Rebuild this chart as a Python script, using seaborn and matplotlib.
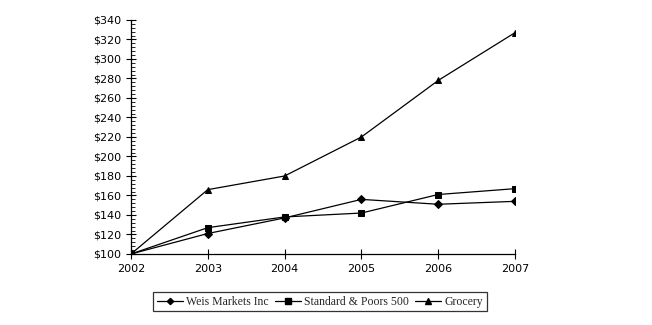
import matplotlib
matplotlib.use("Agg")
import matplotlib.pyplot as plt
from matplotlib.ticker import MultipleLocator, FuncFormatter
from matplotlib.lines import Line2D
import seaborn as sns
import pandas as pd

years = [2002, 2003, 2004, 2005, 2006, 2007]
weis = [100, 121, 137, 156, 151, 154]
sp500 = [100, 127, 138, 142, 161, 167]
grocery = [100, 166, 180, 220, 278, 327]
series_names = ["Weis Markets Inc", "Standard & Poors 500", "Grocery"]

df = pd.concat([
    pd.DataFrame({"year": years, "value": vals, "series": name})
    for name, vals in zip(series_names, [weis, sp500, grocery])
])

sns.set_theme(style="white")
plt.rcParams["font.family"] = ["DejaVu Sans"]

fig = plt.figure(figsize=(6.52, 3.25), dpi=100)
ax = fig.add_axes([0.2009, 0.2185, 0.589, 0.72])

sns.lineplot(
    data=df, x="year", y="value", hue="series", style="series",
    hue_order=series_names, style_order=series_names,
    palette=["black"] * 3, markers=["D", "s", "^"], dashes=False,
    linewidth=0.9, markersize=5, markeredgecolor="black",
    ax=ax, legend=False,
)
# the diamonds read larger than the other marks, so shrink them a little
for line in ax.get_lines():
    if line.get_marker() == "D":
        line.set_markersize(3.8)

ax.set_xlim(2002, 2007)
ax.set_ylim(100, 340)
ax.set_xticks(years)
ax.set_xticklabels([str(y) for y in years], fontsize=8)
ax.yaxis.set_major_locator(MultipleLocator(20))
ax.yaxis.set_minor_locator(MultipleLocator(4))
ax.yaxis.set_major_formatter(FuncFormatter(lambda v, p: f"${int(v)}"))
ax.tick_params(axis="y", which="major", direction="inout", length=7, width=0.8,
               labelsize=8, colors="black", left=True)
ax.tick_params(axis="y", which="minor", direction="in", length=3, width=0.6,
               colors="black", left=True)
ax.tick_params(axis="x", which="major", direction="inout", length=7, width=0.8,
               labelsize=8, colors="black", bottom=True, pad=4)
ax.set_xlabel("")
ax.set_ylabel("")
for side in ["top", "right"]:
    ax.spines[side].set_visible(False)
for side in ["left", "bottom"]:
    ax.spines[side].set_color("black")
    ax.spines[side].set_linewidth(0.9)
ax.grid(False)

handles = [
    Line2D([], [], color="black", lw=0.9, marker=m, markersize=s)
    for m, s in zip(["D", "s", "^"], [3.2, 4, 4])
]
leg = fig.legend(
    handles, series_names, loc="center", bbox_to_anchor=(0.491, 0.071),
    ncol=3, frameon=True, fancybox=False, edgecolor="black",
    prop={"family": "Liberation Serif", "size": 8.5},
    handlelength=2.2, handletextpad=0.3, columnspacing=0.5,
    borderpad=0.3,
)
leg.get_frame().set_linewidth(0.9)

fig.savefig("out.png", dpi=100)
